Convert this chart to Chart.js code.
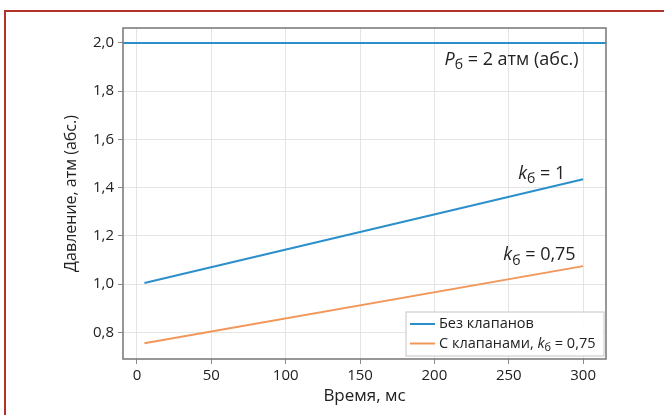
<!DOCTYPE html>
<html>
<head>
<meta charset="utf-8">
<script src="https://cdn.jsdelivr.net/npm/chart.js@4"></script>
<style>
  body { margin: 0; background: #fff; }
  .wrap { position: relative; width: 664px; height: 415px; overflow: hidden; }
  .frame { position: absolute; left: 4px; top: 10px; width: 720px; height: 500px;
           border-top: 2.5px solid #b3322a; border-left: 2.5px solid #b3322a; }
  canvas { position: absolute; left: 0; top: 0; }
</style>
</head>
<body>
<div class="wrap">
  <div class="frame"></div>
  <canvas id="chart" width="664" height="415"></canvas>
</div>
<script>
// time axis, ms
const timeMs = [5, 300];
// pressure, atm (abs.)
const noValves = [1.005, 1.435];
const withValves = [0.755, 1.075];
const tankPressure = 2.0;

const xMin = -9.4, xMax = 315.4;
const yMin = 0.69, yMax = 2.062;

const blue = '#2b8fcb';
const orange = '#f2975a';
const font = "'Open Sans', 'Noto Sans', sans-serif";

const toPoints = (xs, ys) => xs.map((x, i) => ({ x: x, y: ys[i] }));

const commaFmt = (v, d) => v.toFixed(d).replace('.', ',');

// "k_б = ..." with italic letter and subscript; align 'right' or 'left' at x
const drawSubLabel = (ctx, letter, rest, x, yMid, size, align) => {
  const main = `italic ${size}px ${font}`;
  const sub = `${Math.round(size * 0.75)}px ${font}`;
  const norm = `${size}px ${font}`;
  ctx.font = main; const w1 = ctx.measureText(letter).width;
  ctx.font = sub; const w2 = ctx.measureText('б').width;
  ctx.font = norm; const w3 = ctx.measureText(rest).width;
  if (align !== 'left') x -= (w1 + w2 + w3);
  ctx.textBaseline = 'middle';
  ctx.textAlign = 'left';
  ctx.font = main; ctx.fillText(letter, x, yMid); x += w1;
  ctx.font = sub; ctx.fillText('б', x, yMid + size * 0.3); x += w2;
  ctx.font = norm; ctx.fillText(rest, x, yMid);
};

const extras = {
  id: 'extras',
  afterDatasetsDraw(chart) {
    const { ctx, chartArea: a, scales } = chart;
    const xs = scales.x, ys = scales.y;
    ctx.save();
    // plot frame
    ctx.strokeStyle = '#7d7d7d';
    ctx.lineWidth = 1.6;
    ctx.strokeRect(a.left, a.top, a.right - a.left, a.bottom - a.top);

    ctx.fillStyle = '#222';
    drawSubLabel(ctx, 'P', ' = 2 атм (абс.)', xs.getPixelForValue(297), ys.getPixelForValue(1.93), 18);
    drawSubLabel(ctx, 'k', ' = 1', xs.getPixelForValue(288), ys.getPixelForValue(1.459), 18);
    drawSubLabel(ctx, 'k', ' = 0,75', xs.getPixelForValue(295), ys.getPixelForValue(1.12), 18);

    // legend, lower right inside plot
    const lx = a.right - 200, ly = a.bottom - 47, lw = 198, lh = 44;
    ctx.fillStyle = 'rgba(255,255,255,0.9)';
    ctx.fillRect(lx, ly, lw, lh);
    ctx.strokeStyle = '#cfcfcf';
    ctx.lineWidth = 1.2;
    ctx.strokeRect(lx, ly, lw, lh);
    const items = chart.data.datasets.filter(d => d.inLegend);
    items.forEach((d, i) => {
      const cy = ly + 12 + i * 19.5;
      ctx.strokeStyle = d.borderColor;
      ctx.lineWidth = 2;
      ctx.beginPath();
      ctx.moveTo(lx + 4, cy);
      ctx.lineTo(lx + 29, cy);
      ctx.stroke();
      ctx.fillStyle = '#222';
      ctx.textBaseline = 'middle';
      ctx.textAlign = 'left';
      ctx.font = `14.5px ${font}`;
      ctx.fillText(d.label, lx + 33, cy);
      if (d.legendSub) {
        const w = ctx.measureText(d.label + ' ').width;
        drawSubLabel(ctx, 'k', d.legendSub, lx + 33 + w, cy, 14.5, 'left');
      }
    });
    ctx.restore();
  }
};

new Chart(document.getElementById('chart'), {
  type: 'scatter',
  data: {
    datasets: [
      {
        label: 'Бак',
        data: toPoints([xMin, xMax], [tankPressure, tankPressure]),
        borderColor: blue, borderWidth: 2, showLine: true, pointRadius: 0
      },
      {
        label: 'Без клапанов',
        data: toPoints(timeMs, noValves),
        borderColor: blue, borderWidth: 2, showLine: true, pointRadius: 0, inLegend: true
      },
      {
        label: 'С клапанами,',
        legendSub: ' = 0,75',
        data: toPoints(timeMs, withValves),
        borderColor: orange, borderWidth: 2, showLine: true, pointRadius: 0, inLegend: true
      }
    ]
  },
  options: {
    responsive: false,
    animation: false,
    clip: false,
    layout: { padding: { left: 0, top: 28, right: 58, bottom: 0 } },
    plugins: { legend: { display: false }, tooltip: { enabled: false } },
    scales: {
      x: {
        type: 'linear',
        min: xMin, max: xMax,
        afterFit: s => { s.height = 56; },
        border: { display: false },
        grid: { color: '#e4e4e4', tickColor: '#8a8a8a', tickLength: 5, lineWidth: 1 },
        ticks: {
          stepSize: 50, includeBounds: false, padding: 3,
          color: '#222', font: { family: font, size: 15 },
          callback: v => String(v)
        },
        title: { display: true, text: 'Время, мс', color: '#222',
                 font: { family: font, size: 17 }, padding: { bottom: 9 } }
      },
      y: {
        min: yMin, max: yMax,
        afterFit: s => { s.width = 123; },
        border: { display: false },
        grid: { color: '#e4e4e4', tickColor: '#8a8a8a', tickLength: 5, lineWidth: 1 },
        ticks: {
          stepSize: 0.2, includeBounds: false, padding: 4,
          color: '#222', font: { family: font, size: 15 },
          callback: v => commaFmt(v, 1)
        },
        title: { display: true, text: 'Давление, атм (абс.)', color: '#222',
                 font: { family: font, size: 16 }, padding: { top: 62 } }
      }
    }
  },
  plugins: [extras]
});
</script>
</body>
</html>
